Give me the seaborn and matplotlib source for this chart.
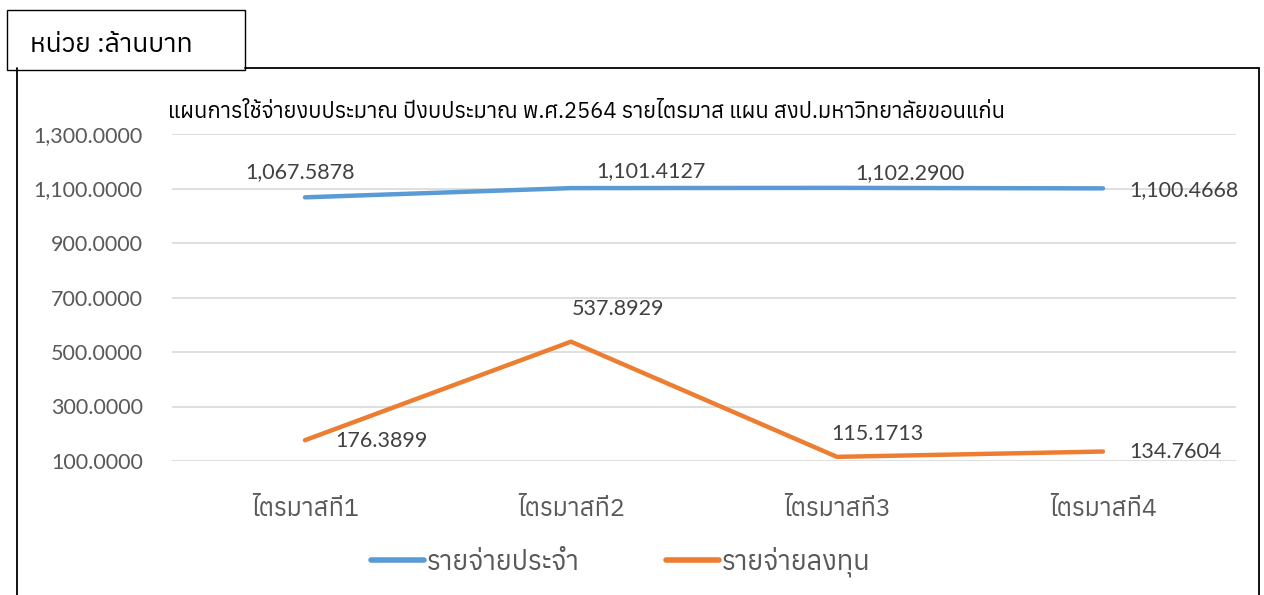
import matplotlib
matplotlib.use("Agg")
import matplotlib.pyplot as plt
import seaborn as sns
import pandas as pd
from matplotlib import font_manager
from matplotlib.patches import Rectangle
from matplotlib.lines import Line2D
from fontTools.ttLib import TTFont

# data
quarters = ["ไตรมาสที่1", "ไตรมาสที่2", "ไตรมาสที่3", "ไตรมาสที่4"]
regular = [1067.5878, 1101.4127, 1102.2900, 1100.4668]
invest = [176.3899, 537.8929, 115.1713, 134.7604]
series_names = ["รายจ่ายประจำ", "รายจ่ายลงทุน"]
y_ticks = [100, 300, 500, 700, 900, 1100, 1300]
title = "แผนการใช้จ่ายงบประมาณ ปีงบประมาณ พ.ศ.2564 รายไตรมาส แผน สงป.มหาวิทยาลัยขอนแก่น"
unit_text = "หน่วย :ล้านบาท"


# find fonts that have Thai glyphs
def thai_fonts():
    found = []
    for f in font_manager.fontManager.ttflist:
        try:
            tt = TTFont(f.fname, fontNumber=0, lazy=True)
            cmap = tt.getBestCmap() or {}
            if 0x0E01 in cmap and 0x0E48 in cmap:
                found.append(f.name)
        except Exception:
            pass
    return sorted(set(found))


tf = thai_fonts()
thai = (tf[:1] if tf else []) + ["DejaVu Sans"]
num_font = ["Lato", "DejaVu Sans"]

sns.set_theme(style="white")
plt.rcParams["font.family"] = thai

df = pd.DataFrame({
    "quarter": quarters * 2,
    "value": regular + invest,
    "series": [series_names[0]] * 4 + [series_names[1]] * 4,
})

W, H = 1264, 595
fig = plt.figure(figsize=(W / 100, H / 100), dpi=100)
ax = fig.add_axes([172 / W, 1 - 461 / H, (1236 - 172) / W, (461 - 134) / H])

colors = {series_names[0]: "#5B9BD5", series_names[1]: "#ED7D31"}
sns.lineplot(data=df, x="quarter", y="value", hue="series", palette=colors,
             sort=False, lw=3.2, ax=ax, legend=False)
for l in ax.lines:
    l.set_solid_capstyle("round")

ax.set_xlim(-0.5, 3.5)
ax.set_ylim(100, 1300)
ax.set_yticks(y_ticks)
ax.set_yticklabels([f"{v:,.4f}" for v in y_ticks], family=num_font,
                   fontsize=15.5, color="#595959")
ax.set_xticks(range(4))
ax.set_xticklabels(quarters, fontsize=18, color="#595959")
ax.tick_params(axis="y", length=0, pad=21)
ax.tick_params(axis="x", length=0, pad=27)
ax.grid(axis="y", color="#D9D9D9", lw=1.2)
ax.set_axisbelow(True)
for s in ax.spines.values():
    s.set_visible(False)
ax.set_xlabel("")
ax.set_ylabel("")

# data labels
off_reg = [(-5, 25), (80, 17), (73, 15), (81, -2)]
off_inv = [(76, -1), (47, 33), (40, 23), (72, 0)]
for vals, offs in [(regular, off_reg), (invest, off_inv)]:
    for i, (v, o) in enumerate(zip(vals, offs)):
        ax.annotate(f"{v:,.4f}", (i, v), xytext=o, textcoords="offset pixels",
                    ha="center", va="center", fontsize=15.5, color="#404040",
                    family=num_font, annotation_clip=False)

fig.text(168 / W, 1 - 112 / H, title, ha="left", va="center", fontsize=15.8,
         color="#000000")

# legend
handles = [Line2D([], [], color=colors[n], lw=4, solid_capstyle="round") for n in series_names]
fig.legend(handles, series_names, loc="center", bbox_to_anchor=(621 / W, 1 - 562 / H),
           ncol=2, frameon=False, fontsize=19.5, labelcolor="#595959",
           handlelength=1.95, handletextpad=0.1, columnspacing=3.2)

# outer frame and unit box
frame = dict(transform=fig.transFigure, color="#000000", lw=1.3)
fig.add_artist(Line2D([17 / W, 17 / W], [0, 1 - 68 / H], **frame))
fig.add_artist(Line2D([245 / W, 1259 / W], [1 - 68 / H, 1 - 68 / H], **frame))
fig.add_artist(Line2D([1259 / W, 1259 / W], [0, 1 - 68 / H], **frame))
fig.add_artist(Rectangle((7 / W, 1 - 70 / H), 238 / W, 60 / H, transform=fig.transFigure,
                         facecolor="white", edgecolor="black", lw=1.0))
fig.text(30 / W, 1 - 45 / H, unit_text, ha="left", va="center", fontsize=19, color="#000000")

fig.savefig("out.png", dpi=100)
